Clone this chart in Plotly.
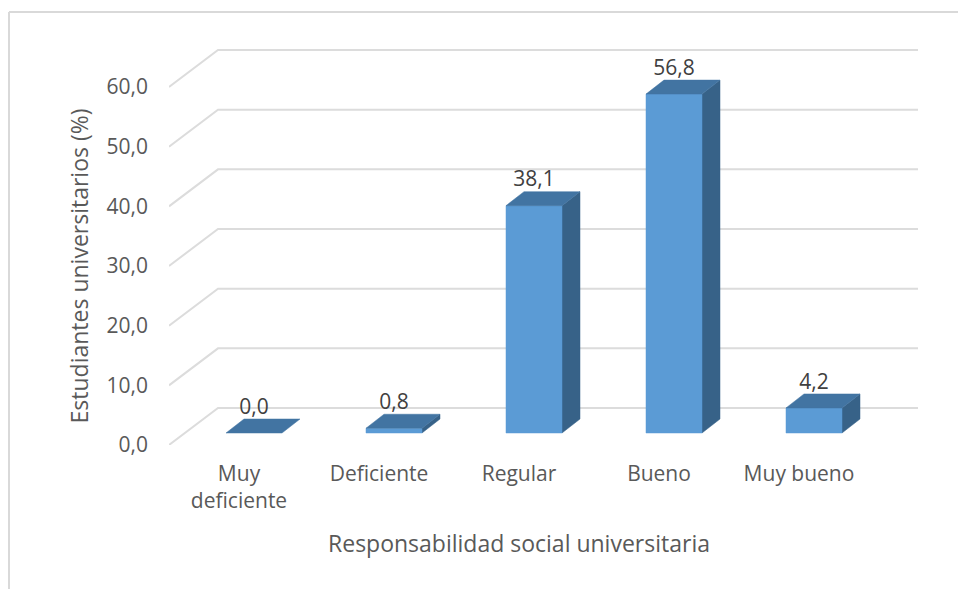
import plotly.graph_objects as go

categories = ["Muy<br>deficiente", "Deficiente", "Regular", "Bueno", "Muy bueno"]
values = [0.0, 0.8, 38.1, 56.8, 4.2]
y_ticks = [0, 10, 20, 30, 40, 50, 60]
x_title = "Responsabilidad social universitaria"
y_title = "Estudiantes universitarios (%)"

W, H = 958, 589
L, R, T, B = 169, 869, 87, 445        # front plane of the axes
OUT_R, OUT_T = 920, 45                # outer box, holds the back wall
PX_X = (R - L) / len(categories)
PX_Y = (B - T) / 60

FRONT = "#5B9BD5"
TOP = "#4274A2"
SIDE = "#376288"
GRID = "#DCDCDC"
TEXT = "#595959"
FONT = "Open Sans"


def dx(p):
    return p / PX_X


def dy(p):
    return p / PX_Y


half = dx(28)
shift_x, base_y = dx(15), dy(12)
depth_x, depth_y = dx(18), dy(14)
wall_x, wall_y = dx(49), dy(37)

left, right = -0.5, len(categories) - 0.5
outer_right = left + dx(OUT_R - L)
outer_top = dy(B - OUT_T)

fig = go.Figure()
XY = dict(xaxis="x2", yaxis="y2")


def poly(xs, ys, color):
    fig.add_trace(go.Scatter(x=xs + xs[:1], y=ys + ys[:1], mode="lines", fill="toself",
                             fillcolor=color, line=dict(color=color, width=0.5),
                             hoverinfo="skip", showlegend=False, **XY))


# an empty trace keeps the labelled axes alive
fig.add_trace(go.Scatter(x=[left, right], y=[0, 60], mode="markers", marker=dict(opacity=0),
                         hoverinfo="skip", showlegend=False))

for t in y_ticks:
    fig.add_trace(go.Scatter(x=[left, left + wall_x, right + wall_x],
                             y=[t, t + wall_y, t + wall_y], mode="lines",
                             line=dict(color=GRID, width=2), hoverinfo="skip",
                             showlegend=False, **XY))

for i, v in enumerate(values):
    x0, x1 = i + shift_x - half, i + shift_x + half
    y0, y1 = base_y, base_y + v
    if v > 0:
        poly([x1, x1 + depth_x, x1 + depth_x, x1], [y0, y0 + depth_y, y1 + depth_y, y1], SIDE)
        poly([x0, x1, x1, x0], [y0, y0, y1, y1], FRONT)
    poly([x0, x1, x1 + depth_x, x0 + depth_x], [y1, y1, y1 + depth_y, y1 + depth_y], TOP)

fig.add_trace(go.Scatter(
    x=[i + shift_x for i in range(len(values))],
    y=[base_y + v + depth_y for v in values],
    text=[f"{v:.1f}".replace(".", ",") for v in values],
    mode="text", textposition="top center",
    textfont=dict(family=FONT, size=21, color="#404040"),
    hoverinfo="skip", showlegend=False, cliponaxis=False, **XY))

fx = (R - L) / (OUT_R - L)
fy = (B - T) / (B - OUT_T)
bx = (9 - L) / (OUT_R - L)
bxr = (W - L) / (OUT_R - L)
by = (B - 12) / (B - OUT_T)
byb = -(H - B) / (B - OUT_T)

fig.update_layout(
    width=W, height=H, autosize=False,
    margin=dict(l=L, r=W - OUT_R, t=OUT_T, b=H - B),
    paper_bgcolor="white", plot_bgcolor="rgba(0,0,0,0)",
    separators=",.",
    font=dict(family=FONT, size=21, color=TEXT),
    showlegend=False,
    xaxis=dict(domain=[0, fx], range=[left, right], tickmode="array",
               tickvals=list(range(len(categories))), ticktext=categories,
               showgrid=False, zeroline=False, showline=False, ticks="", ticklabelstandoff=14,
               tickfont=dict(size=21, color=TEXT),
               title=dict(text=x_title, standoff=22, font=dict(size=23, color=TEXT))),
    yaxis=dict(domain=[0, fy], range=[0, 60], tickmode="array", tickvals=y_ticks, tickformat=".1f",
               showgrid=False, zeroline=False, showline=False, ticks="", ticklabelstandoff=20,
               tickfont=dict(size=21, color=TEXT),
               title=dict(text=y_title, standoff=11, font=dict(size=23, color=TEXT))),
    xaxis2=dict(domain=[0, 1], range=[left, outer_right], visible=False, anchor="y2"),
    yaxis2=dict(domain=[0, 1], range=[0, outer_top], visible=False, anchor="x2"),
    shapes=[
        dict(type="line", xref="paper", yref="paper", x0=bx, x1=bxr, y0=by, y1=by,
             line=dict(color="#D9D9D9", width=2)),
        dict(type="line", xref="paper", yref="paper", x0=bx, x1=bx, y0=by, y1=byb,
             line=dict(color="#D9D9D9", width=2)),
    ],
)

fig.write_html("out.html", config={"displayModeBar": False},
               post_script="document.body.style.margin='0';")
